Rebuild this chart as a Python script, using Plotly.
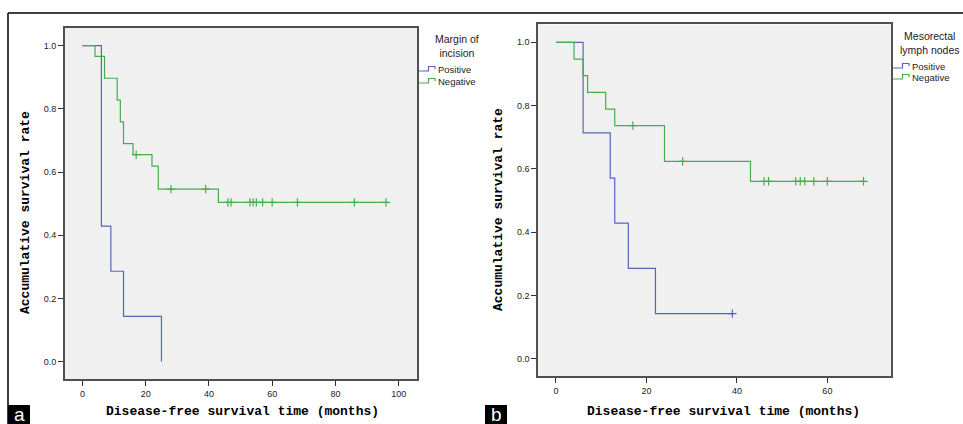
import plotly.graph_objects as go

W, H = 963, 424

# ---------------- data ----------------
# Panel a: Margin of incision
a_pos_time = [0, 6, 9, 13, 25]
a_pos_surv = [1.0, 0.429, 0.286, 0.143, 0.0]
a_pos_censor = []

a_neg_time = [0, 4, 7, 11, 12, 13, 16, 22, 24, 43, 96]
a_neg_surv = [1.0, 0.966, 0.897, 0.828, 0.759, 0.690, 0.655, 0.619, 0.546, 0.504, 0.504]
a_neg_censor = [17, 28, 39, 46, 47, 53, 54, 55, 57, 60, 68, 86, 96]

# Panel b: Mesorectal lymph nodes
b_pos_time = [0, 6, 12, 13, 16, 22, 39]
b_pos_surv = [1.0, 0.714, 0.571, 0.429, 0.286, 0.143, 0.143]
b_pos_censor = [39]

b_neg_time = [0, 4, 6, 7, 11, 13, 24, 43, 68]
b_neg_surv = [1.0, 0.947, 0.895, 0.842, 0.789, 0.737, 0.624, 0.561, 0.561]
b_neg_censor = [17, 28, 46, 47, 53, 54, 55, 57, 60, 68]

group_labels = ["Positive", "Negative"]
legend_titles = ["Margin of<br>incision", "Mesorectal<br>lymph nodes"]
x_title = "Disease-free survival time (months)"
y_title = "Accumulative survival rate"
panel_labels = ["a", "b"]

BLUE = "#5566b8"
GREEN = "#45ad4a"


def px(x):
    return x / W


def py(y):
    return 1 - y / H


def step_value(times, surv, t):
    v = surv[0]
    for ti, si in zip(times, surv):
        if ti <= t:
            v = si
    return v


fig = go.Figure()

panels = [
    dict(xa="x", ya="y", pos=(a_pos_time, a_pos_surv, a_pos_censor),
         neg=(a_neg_time, a_neg_surv, a_neg_censor)),
    dict(xa="x2", ya="y2", pos=(b_pos_time, b_pos_surv, b_pos_censor),
         neg=(b_neg_time, b_neg_surv, b_neg_censor)),
]

for p in panels:
    for key, col in (("pos", BLUE), ("neg", GREEN)):
        t, s, c = p[key]
        fig.add_trace(go.Scatter(x=t, y=s, mode="lines", line=dict(color=col, width=1.2, shape="hv"),
                                 xaxis=p["xa"], yaxis=p["ya"], showlegend=False, hoverinfo="skip"))
        if c:
            fig.add_trace(go.Scatter(x=c, y=[step_value(t, s, ci) for ci in c], mode="markers",
                                     marker=dict(symbol="cross-thin", size=6, line=dict(color=col, width=1.2)),
                                     xaxis=p["xa"], yaxis=p["ya"], showlegend=False, hoverinfo="skip"))

axis_common = dict(showgrid=False, zeroline=False, showline=True, mirror=True, linecolor="#505050",
                   linewidth=2, ticks="outside", ticklen=5, tickwidth=1.3, tickcolor="#303030",
                   tickfont=dict(family="Liberation Sans, Arial", size=9, color="#222"))

fig.update_layout(
    width=W, height=H, margin=dict(l=0, r=0, t=0, b=0),
    paper_bgcolor="white", plot_bgcolor="#f0f0f0",
    xaxis=dict(domain=[px(65), px(417)], range=[-5.5, 105.8], tickvals=[0, 20, 40, 60, 80, 100],
               anchor="y", **axis_common),
    yaxis=dict(domain=[py(379), py(28)], range=[-0.055, 1.056], tickvals=[0, 0.2, 0.4, 0.6, 0.8, 1.0],
               tickformat=".1f", anchor="x", **axis_common),
    xaxis2=dict(domain=[px(538.3), px(890.7)], range=[-3.9, 74.0], tickvals=[0, 20, 40, 60],
                anchor="y2", **axis_common),
    yaxis2=dict(domain=[py(376), py(24.3)], range=[-0.054, 1.057], tickvals=[0, 0.2, 0.4, 0.6, 0.8, 1.0],
                tickformat=".1f", anchor="x2", **axis_common),
    showlegend=False,
)

shapes = []
annotations = []

# outer frame lines
shapes.append(dict(type="line", xref="paper", yref="paper", x0=px(8), x1=px(963), y0=py(13), y1=py(13),
                   line=dict(color="black", width=1.5)))
shapes.append(dict(type="line", xref="paper", yref="paper", x0=px(8), x1=px(8), y0=py(13), y1=py(424),
                   line=dict(color="black", width=1.5)))

title_font = dict(family="Liberation Mono, Courier New, monospace", size=13, color="black")

deco = [
    dict(xt=243, yt_x=25, yt_y=213, lg_cx=457, lg_ty=46, items_y=[69, 81], sym_x=419, box_x=8),
    dict(xt=723, yt_x=498, yt_y=209, lg_cx=930, lg_ty=43, items_y=[66, 77], sym_x=893, box_x=485),
]

for i, d in enumerate(deco):
    annotations.append(dict(text=f"<b>{x_title}</b>", x=px(d["xt"]), y=py(411), xref="paper", yref="paper",
                            showarrow=False, xanchor="center", yanchor="middle", font=title_font))
    annotations.append(dict(text=f"<b>{y_title}</b>", x=px(d["yt_x"]), y=py(d["yt_y"]), xref="paper",
                            yref="paper", showarrow=False, textangle=-90, xanchor="center", yanchor="middle",
                            font=title_font))
    annotations.append(dict(text=legend_titles[i], x=px(d["lg_cx"]), y=py(d["lg_ty"]), xref="paper",
                            yref="paper", showarrow=False, xanchor="center", yanchor="middle",
                            font=dict(family="Liberation Sans, Arial", size=10.5, color="#222")))
    for j, (lab, col) in enumerate(zip(group_labels, [BLUE, GREEN])):
        yc = d["items_y"][j]
        x0 = d["sym_x"]
        path = (f"M {px(x0)} {py(yc + 2)} L {px(x0 + 9.5)} {py(yc + 2)} L {px(x0 + 9.5)} {py(yc - 2.5)} "
                f"L {px(x0 + 16)} {py(yc - 2.5)} L {px(x0 + 16)} {py(yc)}")
        shapes.append(dict(type="path", xref="paper", yref="paper", path=path,
                           line=dict(color=col, width=1.2)))
        annotations.append(dict(text=lab, x=px(x0 + 17), y=py(yc), xref="paper", yref="paper",
                                showarrow=False, xanchor="left", yanchor="middle",
                                font=dict(family="Liberation Sans, Arial", size=9.5, color="#222")))
    bx = d["box_x"]
    shapes.append(dict(type="rect", xref="paper", yref="paper", x0=px(bx), x1=px(bx + 22), y0=py(405), y1=py(424),
                       fillcolor="black", line=dict(width=0)))
    annotations.append(dict(text=panel_labels[i], x=px(bx + 11), y=py(414), xref="paper", yref="paper",
                            showarrow=False, xanchor="center", yanchor="middle",
                            font=dict(family="Liberation Sans, Arial", size=19, color="white")))

fig.update_layout(shapes=shapes, annotations=annotations)

fig.write_html("out.html", config={"displayModeBar": False},
               post_script="document.body.style.margin='0';document.body.style.overflow='hidden';")
